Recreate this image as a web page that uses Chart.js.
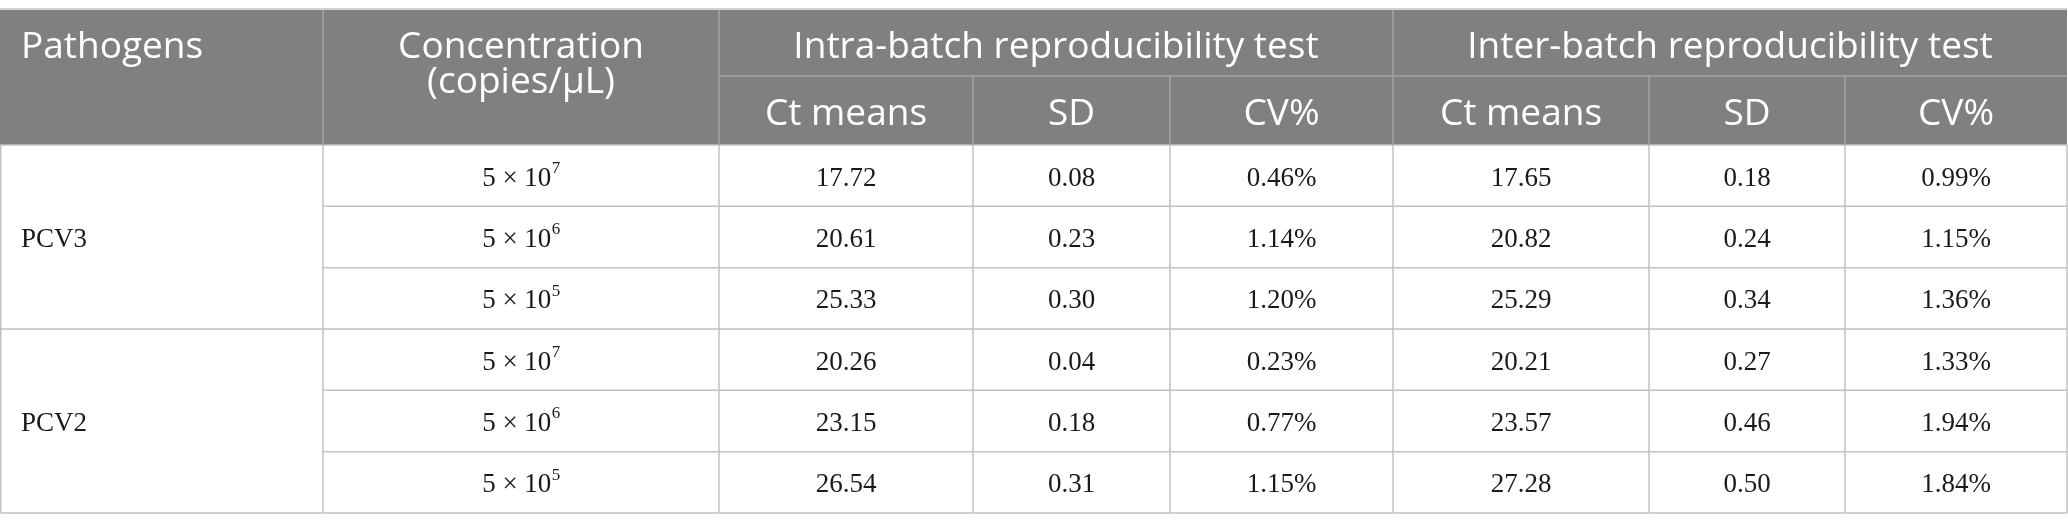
<!DOCTYPE html>
<html>
<head>
<meta charset="utf-8">
<script src="https://cdn.jsdelivr.net/npm/chart.js@4.4.0/dist/chart.umd.min.js"></script>
<style>
  html, body { margin: 0; padding: 0; background: #fff; overflow: hidden; }
  canvas { display: block; }
</style>
</head>
<body>
<canvas id="table" width="2068" height="532"></canvas>
<script>
// table content
const pathogens = ["PCV3", "PCV2"];
const concExponents = [7, 6, 5, 7, 6, 5];
const intraCt = [17.72, 20.61, 25.33, 20.26, 23.15, 26.54];
const intraSD = [0.08, 0.23, 0.30, 0.04, 0.18, 0.31];
const intraCV = [0.46, 1.14, 1.20, 0.23, 0.77, 1.15];
const interCt = [17.65, 20.82, 25.29, 20.21, 23.57, 27.28];
const interSD = [0.18, 0.24, 0.34, 0.27, 0.46, 0.50];
const interCV = [0.99, 1.15, 1.36, 1.33, 1.94, 1.84];
const firstHeaders = ["Pathogens", "Concentration", "(copies/\u03bcL)"];
const groupHeaders = ["Intra-batch reproducibility test", "Inter-batch reproducibility test"];
const subHeaders = ["Ct means", "SD", "CV%"];

// layout (in scale units = pixels of the page)
const colEdges = [0, 323, 719, 973, 1170, 1393, 1649, 1845, 2067];
const headTop = 10;
const headMid = 76;
const headBottom = 145;
const tableBottom = 513;
const rowsPerGroup = 3;

const headFill = "#808080";
const headLine = "#a3a3a3";
const bodyLine = "#c2c2c2";
const headFont = "37px 'Open Sans'";
const bodyFont = "27px 'Liberation Serif'";
const supFont = "17px 'Liberation Serif'";

const numRows = intraCt.length;
const rowH = (tableBottom - headBottom) / numRows;
const rowEdge = i => headBottom + i * rowH;

const fmt = v => v.toFixed(2);
const pct = v => v.toFixed(2) + "%";

const tablePlugin = {
  id: "tablePlugin",
  afterDraw(chart) {
    const ctx = chart.ctx;
    const xs = chart.scales.x;
    const ys = chart.scales.y;
    const X = v => xs.getPixelForValue(v);
    const Y = v => ys.getPixelForValue(v);

    const line = (x1, y1, x2, y2, color) => {
      ctx.strokeStyle = color;
      ctx.lineWidth = 1.5;
      ctx.beginPath();
      ctx.moveTo(X(x1), Y(y1));
      ctx.lineTo(X(x2), Y(y2));
      ctx.stroke();
    };

    const text = (str, x, y, align, color, font) => {
      ctx.font = font;
      ctx.fillStyle = color;
      ctx.textAlign = align;
      ctx.textBaseline = "middle";
      ctx.fillText(str, X(x), Y(y));
    };

    const lastCol = colEdges[colEdges.length - 1];
    const mid = (a, b) => (a + b) / 2;

    ctx.save();

    // header background
    ctx.fillStyle = headFill;
    ctx.fillRect(X(0), Y(headTop), X(lastCol) - X(0), Y(headBottom) - Y(headTop));

    // outer lines
    line(0, headTop - 1, lastCol, headTop - 1, bodyLine);
    line(0, headBottom, lastCol, headBottom, bodyLine);
    line(0, tableBottom, lastCol, tableBottom, bodyLine);
    line(0.75, headBottom, 0.75, tableBottom, bodyLine);
    line(lastCol, headBottom, lastCol, tableBottom, bodyLine);

    // header lines
    line(colEdges[2], headMid, lastCol, headMid, headLine);
    [1, 2, 5].forEach(c => line(colEdges[c], headTop, colEdges[c], headBottom, headLine));
    [3, 4, 6, 7].forEach(c => line(colEdges[c], headMid, colEdges[c], headBottom, headLine));

    // body lines
    for (let c = 1; c < colEdges.length - 1; c++) {
      line(colEdges[c], headBottom, colEdges[c], tableBottom, bodyLine);
    }
    for (let r = 1; r < numRows; r++) {
      const startX = r % rowsPerGroup === 0 ? 0 : colEdges[1];
      line(startX, rowEdge(r), lastCol, rowEdge(r), bodyLine);
    }

    // header texts
    const subMidY = mid(headMid, headBottom) + 4;
    const topMidY = mid(headTop, headMid) + 4;
    text(firstHeaders[0], 21, topMidY, "left", "#fff", headFont);
    text(firstHeaders[1], mid(colEdges[1], colEdges[2]), topMidY, "center", "#fff", headFont);
    text(firstHeaders[2], mid(colEdges[1], colEdges[2]), topMidY + 35, "center", "#fff", headFont);
    groupHeaders.forEach((g, gi) => {
      const c0 = 2 + gi * 3;
      text(g, mid(colEdges[c0], colEdges[c0 + 3]), topMidY, "center", "#fff", headFont);
      subHeaders.forEach((s, si) => {
        text(s, mid(colEdges[c0 + si], colEdges[c0 + si + 1]), subMidY, "center", "#fff", headFont);
      });
    });

    // body texts
    pathogens.forEach((p, gi) => {
      const yc = mid(rowEdge(gi * rowsPerGroup), rowEdge((gi + 1) * rowsPerGroup)) + 3;
      text(p, 21, yc, "left", "#1a1a1a", bodyFont);
    });

    const cols = [intraCt, intraSD, intraCV, interCt, interSD, interCV];
    const fmts = [fmt, fmt, pct, fmt, fmt, pct];
    for (let r = 0; r < numRows; r++) {
      const yc = mid(rowEdge(r), rowEdge(r + 1)) + 3;

      // concentration with superscript exponent
      const base = "5 \u00d7 10";
      const exp = String(concExponents[r]);
      ctx.font = bodyFont;
      const wb = ctx.measureText(base).width;
      ctx.font = supFont;
      const we = ctx.measureText(exp).width;
      const cx = X(mid(colEdges[1], colEdges[2]));
      const startPx = cx - (wb + we) / 2;
      ctx.textAlign = "left";
      ctx.textBaseline = "middle";
      ctx.fillStyle = "#1a1a1a";
      ctx.font = bodyFont;
      ctx.fillText(base, startPx, Y(yc));
      ctx.font = supFont;
      ctx.fillText(exp, startPx + wb + 0.5, Y(yc) - 10);

      cols.forEach((arr, ci) => {
        text(fmts[ci](arr[r]), mid(colEdges[ci + 2], colEdges[ci + 3]), yc, "center", "#1a1a1a", bodyFont);
      });
    }

    ctx.restore();
  }
};

new Chart(document.getElementById("table"), {
  type: "scatter",
  data: { datasets: [] },
  options: {
    responsive: false,
    animation: false,
    devicePixelRatio: 1,
    layout: { padding: 0 },
    plugins: { legend: { display: false }, tooltip: { enabled: false } },
    scales: {
      x: { type: "linear", min: 0, max: 2068, offset: false, display: false },
      y: { type: "linear", min: 0, max: 532, reverse: true, offset: false, display: false }
    }
  },
  plugins: [tablePlugin]
});
</script>
</body>
</html>
